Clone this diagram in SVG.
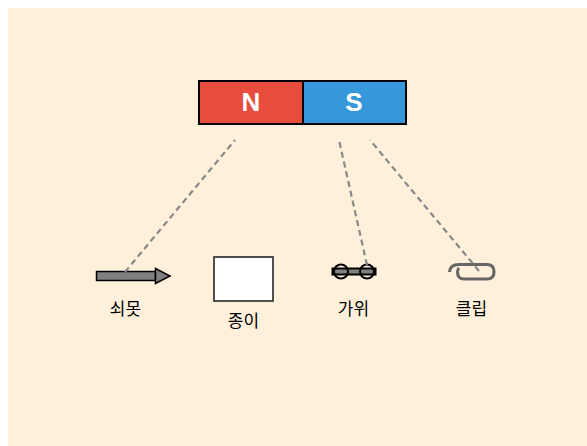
<svg xmlns="http://www.w3.org/2000/svg" width="587" height="446" viewBox="0 0 587 446">
<style>
.lbl{font-family:"Noto Sans CJK KR","Liberation Sans",sans-serif;font-size:17px;fill:#000;text-anchor:middle}
.pole{font-family:"Liberation Sans",Arial,sans-serif;font-size:26px;font-weight:700;fill:#fff;text-anchor:middle}
.box{stroke:#000;stroke-width:2}
.dash{fill:none;stroke:#888;stroke-width:2.200;stroke-dasharray:6 4}
</style>
<rect x="0" y="0" width="587" height="446" fill="#fff"/>
<rect x="8" y="8" width="579" height="438" fill="#fff0dc"/>
<g id="magnet-n"><rect class="box" x="199" y="81" width="104" height="43" fill="#e74c3c"/><text class="pole" x="251" y="111">N</text></g>
<g id="magnet-s"><rect class="box" x="303" y="81" width="103" height="43" fill="#3498db"/><text class="pole" x="354" y="111">S</text></g>
<g id="nail"><rect x="96.500" y="271.500" width="59" height="9" fill="#808080" stroke="#000" stroke-width="1.500"/><polygon points="155.500,268.500 170,276 155.500,283.500" fill="#808080" stroke="#000" stroke-width="1.500"/><text class="lbl" x="125.500" y="315">쇠못</text></g>
<g id="paper"><rect x="214" y="257" width="59" height="44" fill="#fff" stroke="#333" stroke-width="1.700"/><text class="lbl" x="243.500" y="327">종이</text></g>
<g id="scissors"><rect x="332.500" y="268.500" width="43" height="6" fill="#808080" stroke="#000" stroke-width="2"/><circle cx="341" cy="271.500" r="7" fill="none" stroke="#000" stroke-width="2"/><circle cx="367" cy="271.500" r="7" fill="none" stroke="#000" stroke-width="2"/><text class="lbl" x="353.500" y="315">가위</text></g>
<g id="clip"><path d="M449.500 272 Q450 264.500 459 264.500 L487 264.500 Q494 264.500 494 272 Q494 279 487 279 L464 279 Q457.500 279 457.500 272 Q457.500 269.500 459 268" fill="none" stroke="#666" stroke-width="3"/><text class="lbl" x="471.500" y="315">클립</text></g>
<g id="connectors"><line class="dash" x1="125" y1="272" x2="235" y2="140"/><line class="dash" x1="367" y1="265" x2="339" y2="140"/><line class="dash" x1="479" y1="271" x2="370" y2="140"/></g>
</svg>
